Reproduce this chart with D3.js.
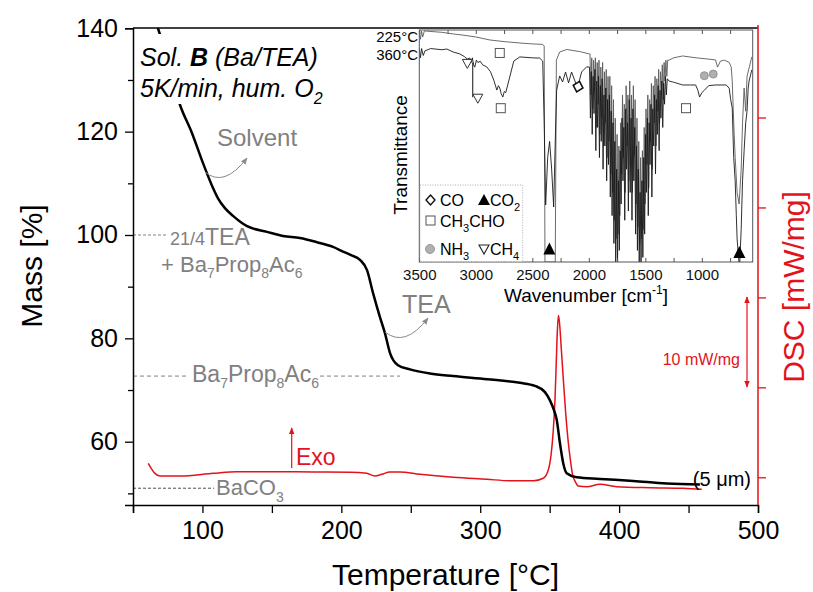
<!DOCTYPE html>
<html><head><meta charset="utf-8">
<script src="https://cdn.jsdelivr.net/npm/d3@7"></script>
<style>
body{margin:0;background:#fff}
svg{display:block}
text{font-family:"Liberation Sans",Arial,sans-serif}
</style>
</head><body>
<svg id="c" width="813" height="592"></svg>
<script>
// ---------------- DATA ----------------
// TG curve (mass %) vs temperature (°C)
const tgTemp = [65, 68.0, 71.6, 83.8, 92.5, 100.4, 107.6, 111.2, 116.2, 122, 132.1, 146.5, 158, 170.2, 182.5, 194, 201.2, 207, 213.4, 218.5, 222.8, 227.8, 231.4, 235, 240.8, 249.4, 263.8, 280.4, 304.9, 328.6, 339.4, 346.6, 350.2, 353.1, 355.1, 357.4, 359.8, 362.3, 369.5, 386.2, 410.2, 434.3, 458.2];
const tgMass = [143.5, 140, 137.3, 125.2, 119.7, 113.9, 109.1, 107.1, 105.2, 103.7, 101.7, 100.6, 99.8, 99.4, 98.6, 97.7, 96.8, 96.1, 95.2, 93.2, 88.8, 84.1, 81.0, 77.2, 74.8, 74.0, 73.2, 72.7, 72.1, 71.4, 70.8, 69.6, 68.0, 66.1, 64.2, 59.7, 55.8, 53.9, 53.1, 52.8, 52.4, 51.9, 51.7];
// DSC curve (mW/mg) vs temperature (°C)
const dscTemp = [61.0, 65.8, 69.4, 83.8, 107.8, 124.7, 155.8, 179.8, 206.2, 218.3, 224.2, 229.1, 235.0, 242.2, 256.6, 280.6, 304.7, 321.4, 338.2, 345.4, 349.0, 351.0, 352.5, 353.8, 354.8, 355.6, 356.3, 357.0, 358.5, 360.0, 361.5, 363.0, 364.6, 366.5, 368.5, 370.6, 376.7, 386.3, 398.3, 422.2, 446.2, 459.5];
const dscVal  = [1.56, 0.44, 0.14, 0.14, 0.44, 0.62, 0.62, 0.59, 0.56, 0.44, 0.14, 0.33, 0.59, 0.59, 0.33, 0.0, -0.22, -0.38, -0.38, -0.11, 0.81, 2.5, 5.0, 8.5, 13.0, 16.5, 18.0, 17.3, 14.0, 10.5, 7.2, 4.5, 2.29, 0.3, -0.5, -0.97, -1.05, -0.78, -1.05, -1.16, -1.22, -1.33];
// axes ticks
const xTicks = [50, 100, 150, 200, 250, 300, 350, 400, 450, 500];
const xLabels = [100, 200, 300, 400, 500];
const yTicks = [50, 60, 70, 80, 90, 100, 110, 120, 130, 140];
const yLabels = [60, 80, 100, 120, 140];
const dscTicks = [0, 10, 20, 30, 40];
// reference levels (mass %)
const levelTEA = 100, levelProp = 72.7, levelBaCO3 = 51.0;

// FTIR inset spectra [wavenumber cm-1, transmittance (arb.)]
const spec225 = [[3500,99],[3490,96],[3480,99.5],[3470,97],[3455,99.6],[3406,99.4],[3300,99],[3200,98.3],[3114,97.8],[3000,97],[2876,95.7],[2750,95],[2611,94.4],[2500,94],[2408,93.8],[2395,93.1],[2388,0],[2297,0],[2287,87],[2258,90.5],[2196,91.6],[2082,90.7],[1994,89.7],
[1990,89.7],[1982,72],[1974,88],[1966,66],[1958,87],[1950,74],[1942,88],[1934,58],[1926,86],[1918,68],[1910,87],[1902,55],[1894,84],[1886,62],[1878,86],[1870,50],[1862,82],[1854,60],[1846,83],[1838,45],[1830,80],[1822,52],[1814,80],[1806,38],[1798,76],[1790,30],[1782,70],[1774,18],[1766,62],[1758,10],[1750,55],[1742,12],[1734,50],[1726,20],[1718,60],[1710,38],[1702,72],[1694,45],[1686,68],[1678,30],[1670,76],[1662,50],[1654,72],[1646,35],[1638,78],[1630,42],[1622,72],[1614,30],[1606,76],[1598,46],[1590,70],[1582,25],[1574,62],[1566,15],[1558,52],[1550,8],[1542,45],[1534,10],[1526,48],[1518,14],[1510,58],[1502,25],[1494,66],[1486,42],[1478,72],[1470,32],[1462,70],[1454,52],[1446,77],[1438,40],[1430,76],[1422,60],[1414,80],[1406,50],[1398,79],[1390,65],[1382,83],[1374,60],[1366,82],[1358,72],[1350,85],[1342,70],[1334,86],[1326,78],[1318,87],[1310,80],[1302,87],
[1290,87],[1250,88],[1170,88.8],[1050,88],[950,87.5],[879,87.1],[861,84],[835,86.6],[800,87],[758,86],[740,84],[731,78],[718,60],[705,45],[688,30],[670,25],[652,40],[640,60],[626,75],[612,65],[600,80],[580,84],[558,88.4]];
const spec360 = [[3500,92],[3490,88],[3480,92],[3465,89],[3450,91],[3400,92],[3300,91.5],[3256,91.8],[3200,90.5],[3141,89.7],[3100,88.5],[3075,87.5],[3053,87.9],[3040,86],[3030,88],[3020,85],[3009,84],[2995,87],[2982,86],[2960,86.5],[2940,85],[2903,84.1],[2870,82],[2841,78.4],[2814,74.1],[2800,76],[2788,75],[2775,72.5],[2761,71.1],[2748,73.5],[2735,73],[2700,79.7],[2664,86.6],[2611,88.4],[2500,88],[2435,87.9],[2408,86.6],[2395,60],[2382,24.6],[2364,45],[2347,52],[2329,40],[2311,23.7],[2298,50],[2285,74],[2258,80.2],[2232,77.6],[2206,81.9],[2179,77.2],[2153,81.9],[2126,78.4],[2100,75],[2064,81.9],[2020,84.1],
[1994,84],[1986,62],[1978,82],[1970,55],[1962,80],[1954,64],[1946,83],[1938,48],[1930,78],[1922,58],[1914,80],[1906,45],[1898,76],[1890,52],[1882,79],[1874,40],[1866,72],[1858,50],[1850,75],[1842,35],[1834,70],[1826,42],[1818,72],[1810,28],[1802,65],[1794,20],[1786,60],[1778,8],[1770,52],[1762,0],[1754,40],[1746,0],[1738,35],[1730,5],[1722,48],[1714,25],[1706,62],[1698,35],[1690,58],[1682,18],[1674,66],[1666,40],[1658,60],[1650,22],[1642,70],[1634,30],[1626,62],[1618,18],[1610,66],[1602,35],[1594,58],[1586,12],[1578,50],[1570,5],[1562,40],[1554,0],[1546,30],[1538,0],[1530,35],[1522,2],[1514,45],[1506,12],[1498,55],[1490,30],[1482,62],[1474,20],[1466,60],[1458,42],[1450,68],[1442,28],[1434,66],[1426,50],[1418,72],[1410,38],[1402,70],[1394,55],[1386,76],[1378,48],[1370,74],[1362,62],[1354,78],[1346,58],[1338,77],[1330,68],[1322,80],[1314,72],[1306,79],
[1290,78],[1250,77.5],[1170,76.3],[1100,76.3],[1055,76.3],[1035,74],[1020,71.1],[1000,73],[976,74.1],[940,76],[879,76.3],[784,76.3],[758,74.9],[745,70],[731,66.4],[718,45],[705,35],[695,20],[688,10],[672,0],[664,0],[652,14],[640,35],[626,48],[612,60],[600,65],[590,75],[582,78],[558,82.8]];
const irTicks = [3500,3250,3000,2750,2500,2250,2000,1750,1500,1250,1000,750];
const irLabels = [3500,3000,2500,2000,1500,1000];
// gas band markers [wavenumber, transmittance]
const mkCH3CHO = [[2788,90.1],[2779,66.3],[1140,66.3]];
const mkCH4 = [[3075,85.6],[2982,70.6]];
const mkCO = [[2095,75.6]];
const mkNH3 = [[978,80.3],[899,81]];
const mkCO2 = [[2349,5],[668,3.5]];

// ---------------- DRAW ----------------
const svg = d3.select('#c');
const red = '#e3121b', gray = '#808080';
const L = 133, R = 758, T = 28, B = 505;
const x = d3.scaleLinear().domain([50, 500]).range([L, R]);
const y = d3.scaleLinear().domain([47.75, 140]).range([B, 28.3]);
const yd = d3.scaleLinear().domain([0, 40]).range([477.3, 117.5]);

function rich(sel, px, py, parts, attrs) {
  const t = sel.append('text').attr('x', px).attr('y', py);
  for (const k in attrs) t.attr(k, attrs[k]);
  let cur = 0;
  parts.forEach(p => {
    const s = p[0], shift = p[1] || 0, fs = p[2];
    const ts = t.append('tspan').text(s).attr('dy', shift - cur);
    if (fs) ts.attr('font-size', fs);
    if (p[3]) ts.attr('font-weight', p[3]);
    cur = shift;
  });
  return t;
}

const defs = svg.append('defs');
defs.append('clipPath').attr('id', 'plotclip').append('rect').attr('x', L).attr('y', T).attr('width', R - L).attr('height', B - T);
defs.append('clipPath').attr('id', 'irclip').append('rect').attr('x', 419.3).attr('y', 30).attr('width', 333.4).attr('height', 232);
function marker(id, color) {
  defs.append('marker').attr('id', id).attr('viewBox', '0 0 10 10').attr('refX', 9).attr('refY', 5)
    .attr('markerWidth', 7).attr('markerHeight', 7).attr('markerUnits', 'userSpaceOnUse').attr('orient', 'auto-start-reverse')
    .append('path').attr('d', 'M0,1 L10,5 L0,9 Z').attr('fill', color);
}
marker('ag', '#8a8a8a'); marker('ar', red);

// reference lines
svg.append('line').attr('x1', L).attr('x2', 168).attr('y1', y(levelTEA)).attr('y2', y(levelTEA))
  .attr('stroke', gray).attr('stroke-width', 1).attr('stroke-dasharray', '3,2');
svg.append('line').attr('x1', L).attr('x2', 186).attr('y1', y(levelProp)).attr('y2', y(levelProp))
  .attr('stroke', gray).attr('stroke-width', 1).attr('stroke-dasharray', '4,3');
svg.append('line').attr('x1', 320).attr('x2', 400).attr('y1', y(levelProp)).attr('y2', y(levelProp))
  .attr('stroke', gray).attr('stroke-width', 1).attr('stroke-dasharray', '4,3');
svg.append('line').attr('x1', L).attr('x2', 214).attr('y1', y(levelBaCO3)).attr('y2', y(levelBaCO3))
  .attr('stroke', '#222').attr('stroke-width', 0.8).attr('stroke-dasharray', '3,2');

// DSC curve
const dscLine = d3.line().x(d => x(d[0])).y(d => yd(d[1])).curve(d3.curveMonotoneX);
svg.append('path').attr('clip-path', 'url(#plotclip)').datum(dscTemp.map((t, i) => [t, dscVal[i]]))
  .attr('d', dscLine).attr('fill', 'none').attr('stroke', red).attr('stroke-width', 1.5);

// TG curve
const tgLine = d3.line().x(d => x(d[0])).y(d => y(d[1])).curve(d3.curveMonotoneX);
svg.append('path').attr('clip-path', 'url(#plotclip)').datum(tgTemp.map((t, i) => [t, tgMass[i]]))
  .attr('d', tgLine).attr('fill', 'none').attr('stroke', '#000').attr('stroke-width', 2.5);

// white box behind title
svg.append('rect').attr('x', 136).attr('y', 34).attr('width', 200).attr('height', 70).attr('fill', '#fff');
rich(svg, 140, 66, [['Sol. '], ['B', 0, null, 'bold'], [' (Ba/TEA)']], {'font-size': 25, 'font-style': 'italic'});
rich(svg, 140, 97, [['5K/min, hum. O'], ['2', 7, 16]], {'font-size': 25, 'font-style': 'italic'});

// annotations
svg.append('text').attr('x', 217).attr('y', 146).attr('font-size', 24).attr('fill', gray).text('Solvent');
svg.append('path').attr('d', 'M205,172 Q224,188 247,158').attr('fill', 'none').attr('stroke', '#8a8a8a').attr('stroke-width', 1).attr('marker-end', 'url(#ag)');
rich(svg, 170, 245, [['21/4', 0, 18], ['TEA', 0, 23]], {fill: gray});
rich(svg, 161, 272, [['+ Ba'], ['7', 6, 14], ['Prop'], ['8', 6, 14], ['Ac'], ['6', 6, 14]], {'font-size': 22, fill: gray});
rich(svg, 192, 382, [['Ba'], ['7', 6, 14], ['Prop'], ['8', 6, 14], ['Ac'], ['6', 6, 14]], {'font-size': 23, fill: gray});
svg.append('text').attr('x', 402).attr('y', 313).attr('font-size', 25).attr('fill', gray).text('TEA');
svg.append('path').attr('d', 'M385,332 Q405,348 428,318').attr('fill', 'none').attr('stroke', '#8a8a8a').attr('stroke-width', 1).attr('marker-end', 'url(#ag)');
rich(svg, 216, 495, [['BaCO'], ['3', 7, 14]], {'font-size': 22, fill: gray});
svg.append('line').attr('x1', 291.7).attr('x2', 291.7).attr('y1', 468).attr('y2', 428).attr('stroke', red).attr('stroke-width', 1.2).attr('marker-end', 'url(#ar)');
svg.append('text').attr('x', 296).attr('y', 465).attr('font-size', 23).attr('fill', red).attr('font-family', '"Open Sans",sans-serif').text('Exo');
svg.append('text').attr('x', 751).attr('y', 486).attr('font-size', 20).attr('text-anchor', 'end').text('(5 \u03bcm)');
svg.append('line').attr('x1', 747).attr('x2', 747).attr('y1', 387).attr('y2', 297).attr('stroke', red).attr('stroke-width', 1.2)
  .attr('marker-end', 'url(#ar)').attr('marker-start', 'url(#ar)');
svg.append('text').attr('x', 740).attr('y', 365).attr('font-size', 16).attr('text-anchor', 'end').attr('fill', red)
  .attr('font-family', '"Open Sans",sans-serif').text('10 mW/mg');

// ---------------- INSET ----------------
const ix = d3.scaleLinear().domain([3500, 550]).range([419.3, 752.7]);
const iy = d3.scaleLinear().domain([0, 100]).range([262, 30]);
const ig = svg.append('g');
ig.append('rect').attr('x', 419.3).attr('y', 30).attr('width', 333.4).attr('height', 232).attr('fill', '#fff');
const irLine = d3.line().x(d => ix(d[0])).y(d => iy(d[1]));
ig.append('path').attr('clip-path', 'url(#irclip)').datum(spec225).attr('d', irLine).attr('fill', 'none').attr('stroke', '#5a5a5a').attr('stroke-width', 0.9);
ig.append('path').attr('clip-path', 'url(#irclip)').datum(spec360).attr('d', irLine).attr('fill', 'none').attr('stroke', '#1a1a1a').attr('stroke-width', 0.9);
// inset frame
ig.append('rect').attr('x', 419.3).attr('y', 30).attr('width', 333.4).attr('height', 232).attr('fill', 'none').attr('stroke', '#555').attr('stroke-width', 1);
const ibx = d3.axisBottom(ix).tickValues(irTicks).tickSize(-4).tickPadding(7).tickFormat(d => irLabels.includes(d) ? d : '');
const ibg = ig.append('g').attr('transform', 'translate(0,262)').call(ibx);
ibg.select('.domain').remove();
ibg.selectAll('line').attr('stroke', '#555');
ibg.selectAll('text').attr('font-size', 15).attr('font-family', '"Open Sans",sans-serif').attr('fill', '#111');
const itx = d3.axisTop(ix).tickValues(irTicks).tickSize(-4).tickFormat('');
const itg = ig.append('g').attr('transform', 'translate(0,30)').call(itx);
itg.select('.domain').remove();
itg.selectAll('line').attr('stroke', '#555');
rich(ig, 586, 302, [['Wavenumber [cm'], ['-1', -8, 12], [']', 0]], {'font-size': 19, 'text-anchor': 'middle', 'font-family': '"Open Sans",sans-serif'});
ig.append('text').attr('transform', 'translate(407,155) rotate(-90)').attr('text-anchor', 'middle').attr('font-size', 19)
  .attr('font-family', '"Open Sans",sans-serif').text('Transmittance');
ig.append('text').attr('x', 418).attr('y', 42).attr('text-anchor', 'end').attr('font-size', 15).attr('font-family', '"Open Sans",sans-serif').text('225°C');
ig.append('text').attr('x', 418).attr('y', 60).attr('text-anchor', 'end').attr('font-size', 15).attr('font-family', '"Open Sans",sans-serif').text('360°C');
// CH4 guide line
ig.append('line').attr('x1', ix(3027)).attr('x2', ix(3027)).attr('y1', iy(86)).attr('y2', iy(71)).attr('stroke', '#111').attr('stroke-width', 1);
// markers
const triDown = 'M-5,-4 L5,-4 L0,5 Z';
ig.selectAll('.sq').data(mkCH3CHO).join('rect').attr('x', d => ix(d[0]) - 4.5).attr('y', d => iy(d[1]) - 4.5).attr('width', 9).attr('height', 9)
  .attr('fill', '#fff').attr('stroke', '#555').attr('stroke-width', 1);
ig.selectAll('.ch4').data(mkCH4).join('path').attr('d', triDown).attr('transform', d => `translate(${ix(d[0])},${iy(d[1])})`)
  .attr('fill', '#fff').attr('stroke', '#333').attr('stroke-width', 1);
ig.selectAll('.co').data(mkCO).join('path').attr('d', 'M0,-5.5 L5,0 L0,5.5 L-5,0 Z').attr('transform', d => `translate(${ix(d[0])},${iy(d[1])}) rotate(15)`)
  .attr('fill', '#fff').attr('stroke', '#111').attr('stroke-width', 1.6);
ig.selectAll('.nh3').data(mkNH3).join('circle').attr('cx', d => ix(d[0])).attr('cy', d => iy(d[1])).attr('r', 4)
  .attr('fill', '#b0b0b0').attr('stroke', '#888').attr('stroke-width', 0.8);
ig.selectAll('.co2').data(mkCO2).join('path').attr('d', 'M0,-7 L6,5 L-6,5 Z').attr('transform', d => `translate(${ix(d[0])},${iy(d[1]) - 1})`)
  .attr('fill', '#000');
// legend
ig.append('rect').attr('x', 420).attr('y', 185).attr('width', 102.7).attr('height', 76.5).attr('fill', '#fff').attr('stroke', '#999')
  .attr('stroke-width', 0.8).attr('stroke-dasharray', '1,1.5');
const lf = {'font-size': 16, 'font-family': '"Open Sans",sans-serif'};
ig.append('path').attr('d', 'M0,-5 L4.5,0 L0,5 L-4.5,0 Z').attr('transform', 'translate(430.5,200)').attr('fill', '#fff').attr('stroke', '#111').attr('stroke-width', 1.4);
rich(ig, 440, 206, [['CO']], lf);
ig.append('path').attr('d', 'M0,-6 L6,5 L-6,5 Z').attr('transform', 'translate(484,200)').attr('fill', '#000');
rich(ig, 490, 206, [['CO'], ['2', 5, 11]], lf);
ig.append('rect').attr('x', 426).attr('y', 216).attr('width', 9).attr('height', 9).attr('fill', '#fff').attr('stroke', '#555');
rich(ig, 440, 227, [['CH'], ['3', 5, 11], ['CHO', 0]], lf);
ig.append('circle').attr('cx', 430).attr('cy', 249).attr('r', 4.5).attr('fill', '#b0b0b0').attr('stroke', '#888').attr('stroke-width', 0.8);
rich(ig, 440, 255, [['NH'], ['3', 5, 11]], lf);
ig.append('path').attr('d', triDown).attr('transform', 'translate(484,249)').attr('fill', '#fff').attr('stroke', '#222').attr('stroke-width', 1.1);
rich(ig, 490, 255, [['CH'], ['4', 5, 11]], lf);

// ---------------- AXES ----------------
svg.append('line').attr('x1', L).attr('x2', R).attr('y1', T).attr('y2', T).attr('stroke', '#000').attr('stroke-width', 1.5);
const xa = d3.axisBottom(x).tickValues(xTicks).tickSize(8).tickPadding(8).tickFormat(d => xLabels.includes(d) ? d : '');
const xg = svg.append('g').attr('transform', `translate(0,${B})`).call(xa);
xg.select('.domain').attr('stroke-width', 1.5);
xg.selectAll('.tick line').attr('stroke-width', 1.3);
xg.selectAll('text').attr('font-size', 25).attr('font-family', '"Liberation Sans",Arial,sans-serif').attr('fill', '#000');
const ya = d3.axisLeft(y).tickValues(yTicks).tickSize(8).tickPadding(7).tickFormat(d => yLabels.includes(d) ? d : '');
const yg = svg.append('g').attr('transform', `translate(${L},0)`).call(ya);
yg.select('.domain').attr('stroke-width', 1.5);
yg.selectAll('.tick line').attr('stroke-width', 1.3).attr('x2', d => yLabels.includes(d) ? -8 : -5);
yg.selectAll('text').attr('font-size', 25).attr('font-family', '"Liberation Sans",Arial,sans-serif').attr('fill', '#000');
const ra = d3.axisRight(yd).tickValues(dscTicks).tickSize(8).tickFormat('');
const rg = svg.append('g').attr('transform', `translate(${R},0)`).call(ra);
rg.select('.domain').remove();
rg.selectAll('line').attr('stroke', red).attr('stroke-width', 1.3);
svg.append('line').attr('x1', R).attr('x2', R).attr('y1', 25).attr('y2', B).attr('stroke', red).attr('stroke-width', 1.5);

// axis titles
svg.append('text').attr('x', 445.5).attr('y', 585).attr('text-anchor', 'middle').attr('font-size', 30).text('Temperature [°C]');
svg.append('text').attr('transform', 'translate(42,266) rotate(-90)').attr('text-anchor', 'middle').attr('font-size', 30).text('Mass [%]');
svg.append('text').attr('transform', 'translate(804,287) rotate(-90)').attr('text-anchor', 'middle').attr('font-size', 30).attr('fill', red).text('DSC [mW/mg]');
</script>
</body></html>
